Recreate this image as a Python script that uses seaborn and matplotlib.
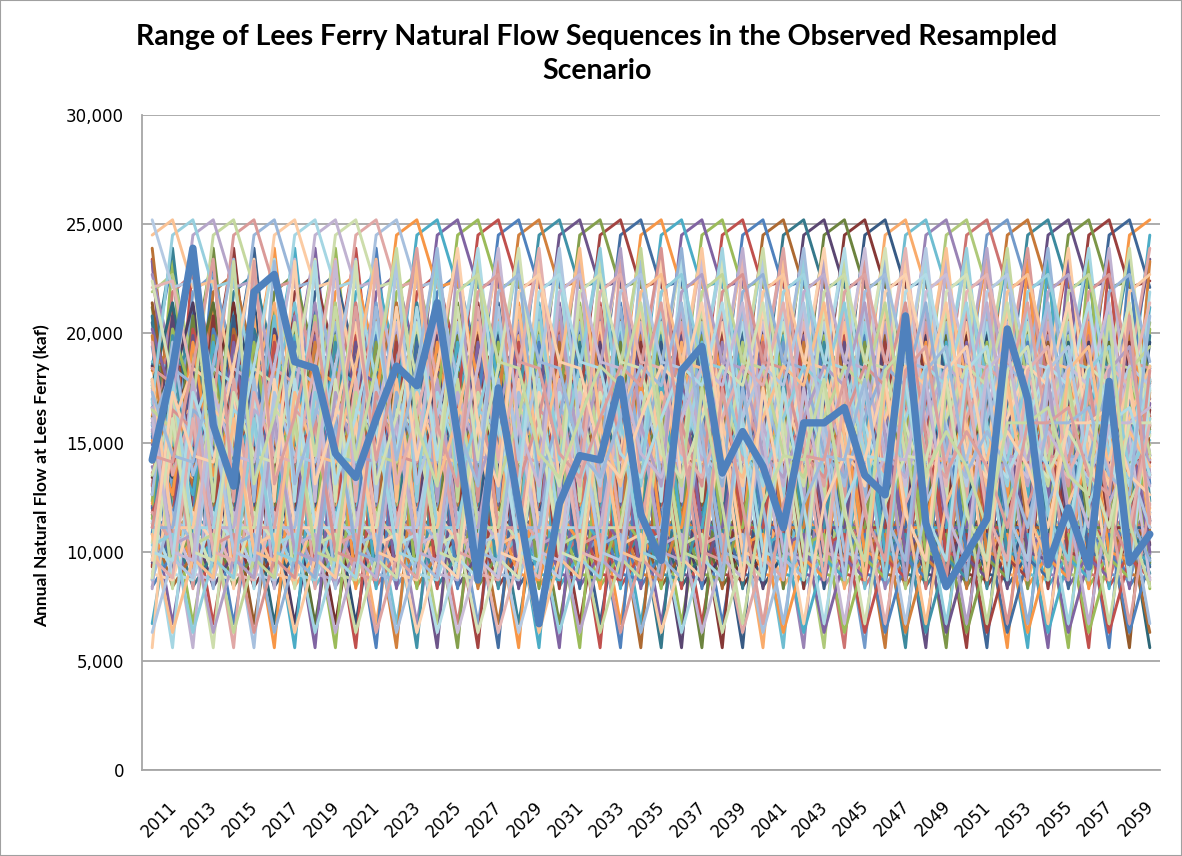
import matplotlib
matplotlib.use("Agg")
import matplotlib.pyplot as plt
import matplotlib.ticker as mticker
import matplotlib.colors as mcolors
import matplotlib.transforms as mtransforms
from matplotlib.patches import Rectangle
import numpy as np
import pandas as pd
import seaborn as sns

# simulation years on the x axis
sim_years = list(range(2011, 2061))
tick_years = list(range(2011, 2061, 2))

# observed natural flow record at Lees Ferry (kaf), 1906-2010
observed_years = list(range(1906, 2011))
observed_flow = [
    # 1906-1914
    18500, 23400, 12300, 23300, 13100, 16200, 20500, 14400, 21200,
    # 1915-1964
    14200, 18400, 23900, 15800, 13000, 21900, 22700, 18700, 18400, 14500,
    13400, 16100, 18500, 17600, 21400, 15300, 8700, 17500, 12100, 6700,
    12200, 14400, 14200, 17900, 11700, 9600, 18300, 19400, 13600, 15500,
    13900, 11100, 15900, 15900, 16600, 13500, 12600, 20800, 11300, 8400,
    9900, 11500, 20200, 17000, 9400, 12000, 9300, 17800, 9500, 10800,
    # 1965-2010
    19900, 10900, 11800, 14100, 14900, 15400, 15100, 12600, 19600, 13500,
    16600, 11400, 5600, 15800, 18400, 17700, 8300, 16800, 24500, 25200,
    22100, 22400, 17800, 11400, 9000, 8700, 11800, 10400, 17400, 9900,
    17900, 11100, 11100, 16500, 15600, 10300, 10800, 6300, 9700, 8800,
    16100, 10000, 9600, 17300, 14400, 14100,
]
highlight_start = 1915

# Excel 2007 accent colours and the shade used for each block of six series
accent_colors = ["#4F81BD", "#C0504D", "#9BBB59", "#8064A2", "#4BACC6", "#F79646"]
shade_cycle = [("none", 0), ("dark", 0.75), ("light", 0.25), ("dark", 0.6),
               ("none", 0), ("dark", 0.8), ("light", 0.2), ("dark", 0.7),
               ("none", 0), ("dark", 0.85), ("none", 0), ("light", 0.5),
               ("light", 0.42), ("light", 0.58), ("light", 0.48), ("light", 0.38),
               ("light", 0.55), ("light", 0.45)]


def shade(hex_color, mode, amount):
    rgb = np.array(mcolors.to_rgb(hex_color))
    if mode == "dark":
        rgb = rgb * amount
    elif mode == "light":
        rgb = rgb + (1 - rgb) * amount
    return tuple(np.clip(rgb, 0, 1))


# every trace is the observed record resampled from a different start year
rows = []
n_obs = len(observed_flow)
for s, start in enumerate(observed_years):
    for i, yr in enumerate(sim_years):
        rows.append((start, yr, observed_flow[(s + i) % n_obs]))
df = pd.DataFrame(rows, columns=["trace", "year", "flow"])

palette = {}
for s, start in enumerate(observed_years):
    mode, amt = shade_cycle[s // 6]
    palette[start] = shade(accent_colors[s % 6], mode, amt)

sns.set_style("white")
plt.rcParams["lines.solid_joinstyle"] = "round"
plt.rcParams["lines.solid_capstyle"] = "round"
plt.rcParams["text.color"] = "black"
plt.rcParams["xtick.color"] = "black"
plt.rcParams["ytick.color"] = "black"

fig = plt.figure(figsize=(11.82, 8.56), dpi=100)
ax = fig.add_axes([142 / 1182, 86 / 856, 1018 / 1182, 655 / 856])

sns.lineplot(data=df, x="year", y="flow", hue="trace", palette=palette,
             legend=False, linewidth=2.1, estimator=None, ax=ax)
sns.lineplot(data=df[df["trace"] == highlight_start], x="year", y="flow",
             color="#4F81BD", linewidth=5.3, estimator=None, ax=ax)

ax.set_xlim(2010.5, 2060.5)
ax.set_ylim(0, 30000)
ax.set_yticks(range(0, 30001, 5000))
ax.yaxis.set_major_formatter(mticker.StrMethodFormatter("{x:,.0f}"))
ax.set_xticks(tick_years)
ax.set_xticks(np.arange(2010.5, 2061, 0.5), minor=True)
ax.set_xticklabels([str(y) for y in tick_years], rotation=45, ha="right",
                   rotation_mode="anchor")
ax.set_xlabel("")
ax.set_ylabel("")

ax.set_axisbelow(True)
ax.yaxis.grid(True, color="#A6A6A6", linewidth=1.3)
ax.xaxis.grid(False)
for side in ["top", "right"]:
    ax.spines[side].set_visible(False)
for side in ["left", "bottom"]:
    ax.spines[side].set_color("#A6A6A6")
    ax.spines[side].set_linewidth(1.3)

ax.tick_params(axis="y", which="major", length=7, color="#A6A6A6",
               labelsize=12, pad=6, labelcolor="black")
ax.tick_params(axis="x", which="both", length=6, color="#A6A6A6",
               labelsize=12, pad=4, labelcolor="black")

offset = mtransforms.ScaledTranslation(11 / 72, -10 / 72, fig.dpi_scale_trans)
for lab in ax.get_xticklabels():
    lab.set_transform(lab.get_transform() + offset)

fig.text(0.505, 1 - 24 / 856,
         "Range of Lees Ferry Natural Flow Sequences in the Observed Resampled\nScenario",
         ha="center", va="top", fontsize=20.5, fontweight="bold",
         family=["Lato", "DejaVu Sans"], linespacing=1.4)
fig.text(42 / 1182, 1 - 476 / 856, "Annual Natural Flow at Lees Ferry (kaf)",
         ha="center", va="center", rotation=90, fontsize=12.5, fontweight="bold",
         family=["Lato", "DejaVu Sans"])

fig.patches.append(Rectangle((0, 0), 1, 1, transform=fig.transFigure, fill=False,
                             edgecolor="#A0A0A0", linewidth=1.5))

fig.savefig("out.png", dpi=100)
